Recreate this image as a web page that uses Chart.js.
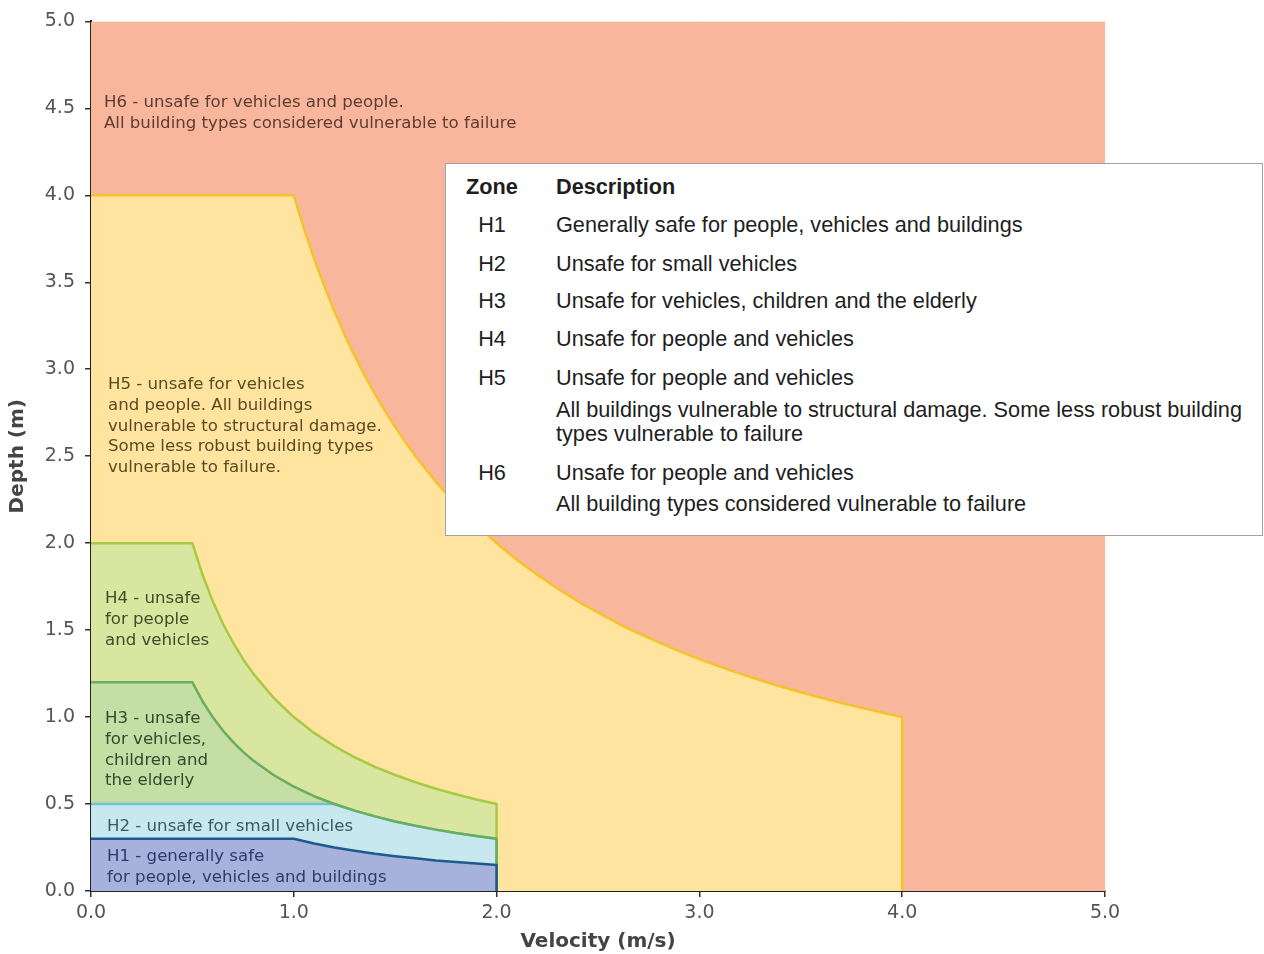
<!DOCTYPE html>
<html>
<head>
<meta charset="utf-8">
<script src="https://cdn.jsdelivr.net/npm/chart.js@4.4.1/dist/chart.umd.min.js"></script>
<style>
  body { margin: 0; background: #fff; }
  #wrap { position: relative; width: 1264px; height: 954px; }
  #legend {
    position: absolute; left: 445px; top: 163px; width: 816px; height: 371px;
    background: #fff; border: 1px solid #a3a3a3;
    font-family: 'Liberation Sans', Arial, sans-serif; font-size: 21.7px; color: #1e1e1e;
  }
  .ln { position: absolute; line-height: 20px; white-space: nowrap; }
  .zc { left: 6px; width: 80px; text-align: center; }
  .dc { left: 110px; }
  .hd { font-weight: bold; }
</style>
</head>
<body>
<div id="wrap">
  <canvas id="hazard" width="1264" height="954"></canvas>
  <div id="legend"></div>
</div>
<script>
// velocity (m/s) / depth (m) outlines of each hazard zone
var h1V = [0, 1.0, 1.1, 1.2, 1.3, 1.4, 1.5, 1.6, 1.7, 1.8, 1.9, 2.0, 2.0];
var h1D = [0.3, 0.3, 0.273, 0.25, 0.231, 0.214, 0.2, 0.188, 0.176, 0.167, 0.158, 0.15, 0];

var h2V = [0, 1.2, 1.3, 1.4, 1.5, 1.6, 1.7, 1.8, 1.9, 2.0, 2.0];
var h2D = [0.5, 0.5, 0.462, 0.429, 0.4, 0.375, 0.353, 0.333, 0.316, 0.3, 0];

var h3V = [0, 0.5, 0.55, 0.6, 0.65, 0.7, 0.75, 0.8, 0.9, 1.0, 1.1, 1.2, 1.3, 1.4, 1.5, 1.6, 1.7, 1.8, 1.9, 2.0, 2.0];
var h3D = [1.2, 1.2, 1.091, 1.0, 0.923, 0.857, 0.8, 0.75, 0.667, 0.6, 0.545, 0.5, 0.462, 0.429, 0.4, 0.375, 0.353, 0.333, 0.316, 0.3, 0];

var h4V = [0, 0.5, 0.55, 0.6, 0.65, 0.7, 0.75, 0.8, 0.9, 1.0, 1.1, 1.2, 1.3, 1.4, 1.5, 1.6, 1.7, 1.8, 1.9, 2.0, 2.0];
var h4D = [2.0, 2.0, 1.818, 1.667, 1.538, 1.429, 1.333, 1.25, 1.111, 1.0, 0.909, 0.833, 0.769, 0.714, 0.667, 0.625, 0.588, 0.556, 0.526, 0.5, 0];

var h5V = [0, 1.0, 1.05, 1.1, 1.15, 1.2, 1.25, 1.3, 1.35, 1.4, 1.45, 1.5, 1.55, 1.6, 1.7, 1.8, 1.9, 2.0,
  2.1, 2.2, 2.3, 2.4, 2.5, 2.6, 2.7, 2.8, 2.9, 3.0, 3.1, 3.2, 3.3, 3.4, 3.5, 3.6, 3.7, 3.8, 3.9, 4.0, 4.0];
var h5D = [4.0, 4.0, 3.81, 3.636, 3.478, 3.333, 3.2, 3.077, 2.963, 2.857, 2.759, 2.667, 2.581, 2.5, 2.353, 2.222, 2.105, 2.0,
  1.905, 1.818, 1.739, 1.667, 1.6, 1.538, 1.481, 1.429, 1.379, 1.333, 1.29, 1.25, 1.212, 1.176, 1.143, 1.111, 1.081, 1.053, 1.026, 1.0, 0];

var h6V = [0, 5.0];
var h6D = [5.0, 5.0];

var velocityTicks = [0, 1, 2, 3, 4, 5];
var depthTicks = [0, 0.5, 1, 1.5, 2, 2.5, 3, 3.5, 4, 4.5, 5];

// texts written inside the zones
var h6Note = ['H6 - unsafe for vehicles and people.', 'All building types considered vulnerable to failure'];
var h5Note = ['H5 - unsafe for vehicles', 'and people. All buildings', 'vulnerable to structural damage.', 'Some less robust building types', 'vulnerable to failure.'];
var h4Note = ['H4 - unsafe', 'for people', 'and vehicles'];
var h3Note = ['H3 - unsafe', 'for vehicles,', 'children and', 'the elderly'];
var h2Note = ['H2 - unsafe for small vehicles'];
var h1Note = ['H1 - generally safe', 'for people, vehicles and buildings'];

// table in the upper right
var zoneCodes = ['H1', 'H2', 'H3', 'H4', 'H5', 'H6'];
var zoneDescriptions = [
  ['Generally safe for people, vehicles and buildings'],
  ['Unsafe for small vehicles'],
  ['Unsafe for vehicles, children and the elderly'],
  ['Unsafe for people and vehicles'],
  ['Unsafe for people and vehicles', 'All buildings vulnerable to structural damage. Some less robust building', 'types vulnerable to failure'],
  ['Unsafe for people and vehicles', 'All building types considered vulnerable to failure']
];

function pts(vs, ds) {
  return vs.map(function (v, i) { return { x: v, y: ds[i] }; });
}

function fillSet(vs, ds, colour, order) {
  return {
    data: pts(vs, ds), showLine: true, fill: 'origin', backgroundColor: colour,
    borderColor: 'transparent', borderWidth: 0, pointRadius: 0, tension: 0, order: order
  };
}

function edgeSet(vs, ds, colour, order) {
  return {
    data: pts(vs, ds), showLine: true, fill: false, borderColor: colour,
    borderWidth: 2.5, pointRadius: 0, tension: 0, order: order, borderJoinStyle: 'round'
  };
}

// ----- legend table -----
var legend = document.getElementById('legend');
function addLine(cls, top, text) {
  var d = document.createElement('div');
  d.className = 'ln ' + cls;
  d.style.top = top + 'px';
  d.textContent = text;
  legend.appendChild(d);
}
addLine('zc hd', 13, 'Zone');
addLine('dc hd', 13, 'Description');
var rowTops = [51, 90, 127, 165, 204, 299];
var subTops = { 4: [236, 260], 5: [330] };
zoneCodes.forEach(function (z, i) {
  addLine('zc', rowTops[i], z);
  zoneDescriptions[i].forEach(function (t, j) {
    addLine('dc', j === 0 ? rowTops[i] : subTops[i][j - 1], t);
  });
});

// ----- notes inside the zones -----
var zoneNotes = {
  id: 'zoneNotes',
  afterDatasetsDraw: function (chart, args, opts) {
    var ctx = chart.ctx, x = chart.scales.x, y = chart.scales.y;
    ctx.save();
    ctx.font = opts.font;
    ctx.textBaseline = 'middle';
    opts.notes.forEach(function (n) {
      ctx.fillStyle = n.color;
      n.lines.forEach(function (t, i) {
        ctx.fillText(t, x.getPixelForValue(n.at[0]), y.getPixelForValue(n.at[1]) + i * opts.lineHeight);
      });
    });
    ctx.restore();
  }
};

var gridColour = 'rgba(238, 222, 210, 0.55)';
var tickFont = { family: "'DejaVu Sans', Verdana, sans-serif", size: 19 };
var titleFont = { family: "'DejaVu Sans', Verdana, sans-serif", size: 20, weight: 'bold' };

new Chart(document.getElementById('hazard'), {
  type: 'scatter',
  data: {
    datasets: [
      edgeSet(h1V, h1D, '#1f5a8c', 0),
      edgeSet(h3V, h3D, '#6aad5c', 1),
      edgeSet(h2V, h2D, '#6fc3cc', 2),
      edgeSet(h4V, h4D, '#a9c944', 3),
      edgeSet(h5V, h5D, '#f6c22a', 4),
      fillSet(h1V, h1D, '#a7b2dc', 5),
      fillSet(h2V, h2D, '#c6e8ee', 6),
      fillSet(h3V, h3D, '#c4dea4', 7),
      fillSet(h4V, h4D, '#d9e6a0', 8),
      fillSet(h5V, h5D, '#fee49f', 9),
      fillSet(h6V, h6D, '#f8b69c', 10)
    ]
  },
  options: {
    responsive: false,
    animation: false,
    layout: { padding: { top: 21, right: 159, left: 0, bottom: 0 } },
    plugins: {
      legend: { display: false },
      tooltip: { enabled: false },
      zoneNotes: {
        font: "16.6px 'DejaVu Sans', Verdana, sans-serif",
        lineHeight: 20.7,
        notes: [
          { lines: h6Note, at: [0.064, 4.53], color: '#5e3c30' },
          { lines: h5Note, at: [0.084, 2.91], color: '#5a4a22' },
          { lines: h4Note, at: [0.069, 1.68], color: '#3f4c2a' },
          { lines: h3Note, at: [0.069, 0.99], color: '#34482f' },
          { lines: h2Note, at: [0.079, 0.37], color: '#3b5a60' },
          { lines: h1Note, at: [0.079, 0.195], color: '#303a6a' }
        ]
      }
    },
    scales: {
      x: {
        type: 'linear', min: 0, max: 5, z: 1,
        afterBuildTicks: function (s) { s.ticks = velocityTicks.map(function (v) { return { value: v }; }); },
        afterFit: function (s) { s.height = 63; },
        ticks: { font: tickFont, color: '#555', padding: 5, callback: function (v) { return v.toFixed(1); } },
        grid: { color: gridColour, tickColor: '#333', tickLength: 6, lineWidth: 1.5 },
        border: { color: '#222', width: 2 },
        title: { display: true, text: 'Velocity (m/s)', font: titleFont, color: '#444', padding: { top: 0, bottom: 0 } }
      },
      y: {
        type: 'linear', min: 0, max: 5, z: 1,
        afterBuildTicks: function (s) { s.ticks = depthTicks.map(function (v) { return { value: v }; }); },
        afterFit: function (s) { s.width = 91; },
        ticks: { font: tickFont, color: '#555', padding: 10, callback: function (v) { return v.toFixed(1); } },
        grid: { color: gridColour, tickColor: '#333', tickLength: 6, lineWidth: 1.5 },
        border: { color: '#222', width: 2 },
        title: { display: true, text: 'Depth (m)', font: titleFont, color: '#444', padding: { top: 6, bottom: 0 } }
      }
    }
  },
  plugins: [zoneNotes]
});
</script>
</body>
</html>
